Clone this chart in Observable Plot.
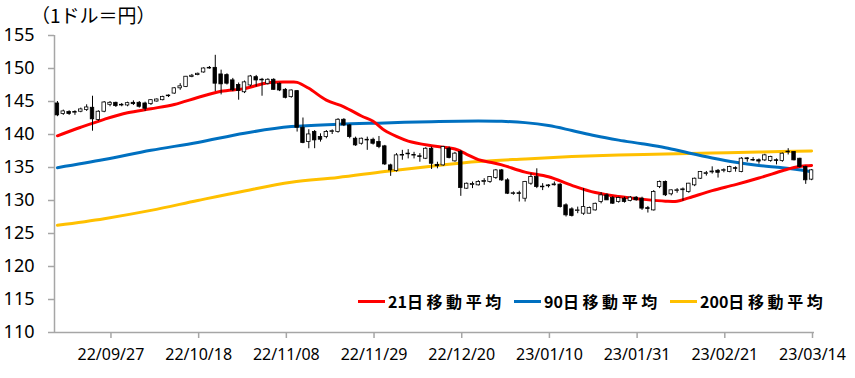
<!DOCTYPE html>
<html>
<head>
<meta charset="utf-8">
<script src="https://cdn.jsdelivr.net/npm/d3@7"></script>
<script src="https://cdn.jsdelivr.net/npm/@observablehq/plot@0.6"></script>
<style>
  html, body { margin: 0; padding: 0; background: #fff; }
  #wrap { position: relative; width: 855px; height: 378px; font-family: "Noto Sans", sans-serif; }
  #title { position: absolute; left: 31px; top: 5px; font-family: "Noto Sans CJK JP", sans-serif; font-size: 19px; color: #000; line-height: 1; }
  #legend { position: absolute; top: 289px; left: 0; width: 855px; height: 24px; font-family: "Noto Sans CJK JP", sans-serif; font-weight: bold; font-size: 16px; color: #000; }
  .item { position: absolute; display: flex; align-items: center; height: 24px; white-space: nowrap; }
  .sw { width: 27px; height: 3px; margin-right: 3px; }
  .cjk { letter-spacing: 3.6px; }
</style>
</head>
<body>
<div id="wrap">
  <div id="chart"></div>
  <div id="title">（1ドル＝円）</div>
  <div id="legend"></div>
</div>
<script>
const tickLabels = ["22/09/27","22/10/18","22/11/08","22/11/29","22/12/20","23/01/10","23/01/31","23/02/21","23/03/14"];

const open = [144.7,143.1,143.4,143.3,143.45,143.7,144.05,142.2,143.45,144.5,
  144.8,144.4,144.4,144.8,144.8,144.7,144.6,145.0,145.2,145.8,
  146.2,147.0,147.2,148.7,149.0,149.4,150.0,150.1,149.1,149.0,
  148.2,147.5,146.4,147.43,148.69,148.3,147.68,148.29,147.68,146.77,
  145.66,146.57,141.02,138.85,140.37,139.61,139.61,140.4,140.37,142.23,
  141.38,139.36,138.6,139.1,139.2,138.85,138.2,135.32,134.46,136.8,
  137.1,136.8,136.7,136.33,137.84,135.4,135.32,137.84,135.93,137.34,
  131.79,132.4,132.3,132.85,132.8,133.4,134.56,133.05,131.0,131.1,
  130.27,132.54,133.55,132.0,132.2,132.35,132.4,129.27,128.66,128.4,
  128.0,128.0,128.5,129.77,130.78,130.37,129.77,130.28,129.93,130.43,
  130.28,128.8,128.5,132.05,132.8,130.94,131.45,131.6,131.29,132.3,
  133.3,134.06,134.3,134.5,134.5,134.32,134.9,134.32,136.3,136.1,
  136.1,136.08,136.0,136.1,135.98,137.3,137.34,136.33,135.07,133.16];
const high = [145.0,143.7,143.6,143.6,144.0,144.5,145.8,143.6,145.0,145.0,
  144.9,144.7,144.9,145.1,145.0,144.9,145.3,145.4,145.8,146.0,
  147.1,147.7,148.8,149.1,149.3,150.1,150.3,152.0,149.75,149.2,
  148.5,147.8,148.1,148.95,148.95,148.5,148.45,148.45,147.8,146.95,
  146.75,146.67,142.5,140.72,140.6,140.1,140.6,140.7,142.4,142.4,
  141.5,139.6,139.45,139.6,139.45,139.7,138.35,135.5,137.1,137.6,
  137.7,137.3,137.1,138.0,138.1,135.8,138.2,138.1,137.3,137.6,
  132.65,132.8,133.0,133.3,133.6,134.7,134.7,133.3,131.3,131.4,
  132.9,134.05,134.8,132.55,132.4,132.8,132.55,129.5,128.9,129.0,
  131.8,129.0,129.6,131.2,131.0,130.6,130.5,130.5,130.6,130.6,
  130.5,129.1,131.5,132.95,132.95,131.6,131.8,131.9,132.6,133.4,
  134.4,134.4,135.1,134.7,134.8,135.2,135.1,136.5,136.5,136.5,
  136.3,137.0,136.7,136.3,137.2,137.85,137.4,136.4,135.2,134.7];
const low = [142.7,142.9,142.9,142.9,143.3,143.5,140.5,142.0,143.3,144.2,
  144.1,144.2,144.2,144.4,144.0,143.5,144.4,144.9,145.1,145.6,
  146.1,146.7,147.1,148.6,148.9,149.3,149.9,146.5,146.0,147.5,
  146.5,145.2,146.2,147.2,147.2,145.8,147.5,146.7,146.5,145.4,
  145.5,140.37,138.6,137.84,137.85,138.85,139.35,140.0,140.2,141.2,
  139.35,138.2,138.4,137.6,138.4,137.85,135.3,133.66,134.3,136.1,
  136.3,136.3,135.8,136.2,134.7,134.8,135.2,136.3,135.8,130.63,
  131.7,131.8,132.2,132.3,132.6,133.2,132.9,130.9,130.8,129.77,
  129.77,132.3,131.8,131.5,131.9,132.2,128.86,127.5,127.5,128.0,
  127.75,128.0,128.4,129.5,130.0,129.4,129.6,129.6,129.8,129.9,
  128.5,128.1,128.4,131.8,130.6,130.7,131.1,129.9,131.1,132.1,
  133.2,133.7,134.0,133.4,134.2,134.2,134.3,134.2,135.8,135.9,
  135.5,135.9,135.8,135.4,135.8,136.9,136.0,134.9,132.45,133.0];
const close = [142.9,143.5,143.1,143.4,143.8,144.1,142.3,143.45,144.85,144.8,
  144.3,144.5,144.75,144.6,144.2,143.9,145.2,145.3,145.7,145.9,
  147.0,147.3,148.75,148.9,149.2,150.0,150.1,147.7,147.6,147.7,
  146.7,146.6,147.9,148.79,148.19,148.2,148.29,146.77,146.67,145.56,
  146.67,141.02,138.7,140.01,139.11,139.21,140.37,140.5,142.23,141.38,
  139.61,138.35,139.36,139.2,138.6,138.1,135.47,134.56,136.84,136.9,
  137.0,136.9,136.6,137.84,135.57,135.2,138.1,136.43,137.1,131.89,
  132.54,132.45,132.8,132.9,133.55,134.56,133.05,131.03,131.1,131.0,
  132.8,133.55,132.04,132.1,132.25,132.4,129.0,127.75,127.65,128.5,
  129.0,128.86,129.5,130.78,130.02,129.52,130.37,129.78,130.43,130.03,
  128.77,128.75,131.29,132.8,130.79,131.54,131.55,131.65,132.55,133.3,
  134.32,134.1,134.35,134.2,134.6,135.07,134.8,136.34,136.35,136.1,
  135.9,136.84,136.6,136.0,137.09,137.4,136.08,135.07,133.06,134.57];

// moving averages read at candle positions
const ma21Idx = [0,4,8,12,16,20,24,28,32,36,40,41,43,46,49,52,54,56,58,60,64,68,70,72,74,76,80,84,88,92,96,100,104,106,108,112,116,120,124,126,128,129];
const ma21 = [139.8,141.1,142.3,143.3,143.9,144.55,145.6,146.55,146.95,147.85,147.95,147.9,147.0,145.2,144.2,142.8,142.0,140.6,139.7,139.0,138.3,137.8,137.0,136.2,135.8,135.4,134.3,133.6,132.3,131.2,130.6,130.2,129.9,129.9,130.4,131.5,132.4,133.4,134.5,135.0,135.25,135.3];
const ma90Idx = [0,8,16,24,32,40,48,56,64,72,76,80,84,88,92,96,100,104,108,112,116,120,124,128,129];
const ma90 = [134.97,136.2,137.6,138.8,140.2,141.2,141.55,141.75,141.95,142.05,142.0,141.8,141.35,140.6,139.8,139.15,138.6,138.0,137.2,136.45,135.8,135.3,134.95,134.5,134.35];
const ma200Idx = [0,8,16,24,32,40,48,56,64,72,80,88,96,104,112,120,129];
const ma200 = [126.25,127.25,128.5,130.0,131.45,132.75,133.5,134.4,135.2,135.9,136.3,136.65,136.9,137.05,137.2,137.35,137.5];

const candles = open.map((o, i) => {
  let lo = Math.min(o, close[i]), hi = Math.max(o, close[i]);
  if (hi - lo < 0.08) { lo -= 0.04; hi += 0.04; }
  return {i, o, c: close[i], h: high[i], l: low[i], lo, hi};
});
const mkLine = (idx, vals) => idx.map((k, j) => ({x: k + 0.5, y: vals[j]}));
const tickPos = tickLabels.map((_, k) => 10 + 15 * k);

const RED = "#FF0000", BLUE = "#0070C0", YEL = "#FFC000", AX = "#a6a6a6";

const chart = Plot.plot({
  width: 855, height: 378,
  marginLeft: 54, marginRight: 41, marginTop: 35, marginBottom: 46,
  style: {fontFamily: "'Noto Sans', sans-serif", background: "transparent", color: "#000"},
  x: {domain: [0, 130], axis: null},
  y: {domain: [110, 155], axis: null},
  marks: [
    Plot.ruleX([0], {stroke: AX, strokeWidth: 1.5}),
    Plot.ruleY([110], {stroke: AX, strokeWidth: 1.5}),
    Plot.axisY({ticks: d3.range(110, 156, 5), label: null, tickSize: 6, tickPadding: 14, stroke: AX, fill: "#000", fontSize: 18, strokeWidth: 1.5}),
    Plot.axisX({ticks: tickPos, label: null, tickFormat: d => tickLabels[(d - 10) / 15], tickSize: 6, tickPadding: 10, stroke: AX, fill: "#000", fontSize: 16, strokeWidth: 1.5, dx: -2}),
    Plot.line(mkLine(ma200Idx, ma200), {x: "x", y: "y", stroke: YEL, strokeWidth: 3, curve: "catmull-rom"}),
    Plot.line(mkLine(ma90Idx, ma90), {x: "x", y: "y", stroke: BLUE, strokeWidth: 3, curve: "catmull-rom"}),
    Plot.line(mkLine(ma21Idx, ma21), {x: "x", y: "y", stroke: RED, strokeWidth: 3, curve: "catmull-rom"}),
    Plot.ruleX(candles, {x: d => d.i + 0.5, y1: "l", y2: "h", stroke: "#000", strokeWidth: 1}),
    Plot.rect(candles, {x1: d => d.i + 0.2, x2: d => d.i + 0.8, y1: "lo", y2: "hi", fill: d => d.c >= d.o ? "#fff" : "#000", stroke: "#000", strokeWidth: 0.8})
  ]
});
document.getElementById("chart").appendChild(chart);

const legendItems = [
  {num: "21", color: RED, left: 358},
  {num: "90", color: BLUE, left: 514},
  {num: "200", color: YEL, left: 670}
];
const lg = document.getElementById("legend");
for (const it of legendItems) {
  const d = document.createElement("div");
  d.className = "item";
  d.style.left = it.left + "px";
  d.innerHTML = `<span class="sw" style="background:${it.color}"></span><span>${it.num}</span><span class="cjk">日移動平均</span>`;
  lg.appendChild(d);
}
</script>
</body>
</html>
